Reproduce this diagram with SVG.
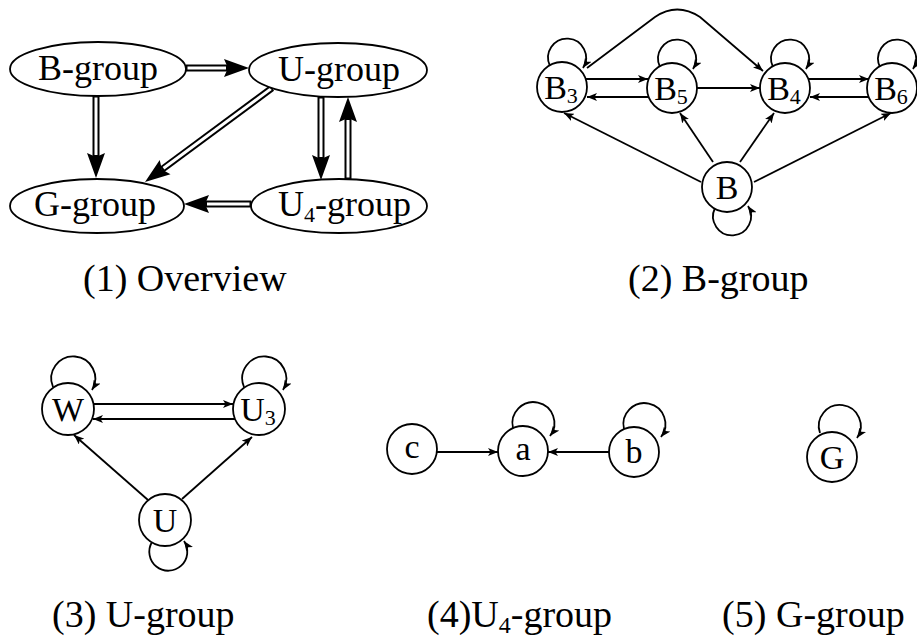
<svg xmlns="http://www.w3.org/2000/svg" width="917" height="637" viewBox="0 0 917 637">
<style>
.t{font-family:"Liberation Serif","Times New Roman",serif;fill:#000}
.big{font-size:36px}
.lab{font-size:34px}
.cap{font-size:38px}
.ell,.cir{fill:#fff;stroke:#000;stroke-width:1.8}
.dk{fill:none;stroke:#000;stroke-width:7}
.dw{fill:none;stroke:#fff;stroke-width:3}
.hd{fill:#000}
.e{fill:none;stroke:#000;stroke-width:1.8;marker-end:url(#ah)}
</style>
<defs>
<marker id="ah" viewBox="0 0 10 8" refX="10" refY="4" markerWidth="10" markerHeight="8" orient="auto" markerUnits="userSpaceOnUse">
<path d="M0,0 L10,4 L0,8 L2.5,4 Z" fill="#000"/>
</marker>
</defs>
<rect width="917" height="637" fill="#fff"/>

<g id="connectors">
<g id="ov-BU">
<path class="dk" d="M186,68 L228,68"/><path class="dw" d="M187.5,68 L226,68"/>
<polygon class="hd" points="249,68 224,77 228,68 224,59"/>
</g>
<g id="ov-BG">
<path class="dk" d="M96,96 L96,157"/><path class="dw" d="M96,97.5 L96,155"/>
<polygon class="hd" points="96,178 105,153 96,157 87,153"/>
</g>
<g id="ov-UG">
<path class="dk" d="M272,88 L161.9,169.5"/><path class="dw" d="M270.8,88.9 L163.5,168.3"/>
<polygon class="hd" points="145,182 170.5,174.3 161.9,169.5 159.7,159.9"/>
</g>
<g id="ov-UU4">
<path class="dk" d="M321,97 L321,159"/><path class="dw" d="M321,98.5 L321,157"/>
<polygon class="hd" points="321,180 330,155 321,159 312,155"/>
</g>
<g id="ov-U4U">
<path class="dk" d="M348,179 L348,118"/><path class="dw" d="M348,177.5 L348,120"/>
<polygon class="hd" points="348,97 357,122 348,118 339,122"/>
</g>
<g id="ov-U4G">
<path class="dk" d="M251,204 L205,204"/><path class="dw" d="M249.5,204 L207,204"/>
<polygon class="hd" points="184,204 209,213 205,204 209,195"/>
</g>

<path class="e" d="M586,79 L648,79"/>
<path class="e" d="M648,97 L587,97"/>
<path class="e" d="M697,88 L760,88"/>
<path class="e" d="M809,79 L869,79"/>
<path class="e" d="M869,97 L810,97"/>
<path class="e" d="M587,68 L655,17 Q677,2 700,17 L763,71"/>
<path class="e" d="M701,182 L564,113"/>
<path class="e" d="M713,162 L680,113"/>
<path class="e" d="M740,162 L774,113"/>
<path class="e" d="M754,182 L891,113"/>
<path class="e" d="M550,66 A19,19 0 1 1 583,68"/>
<path class="e" d="M660,67 A19,19 0 1 1 693,69"/>
<path class="e" d="M773,67 A19,19 0 1 1 806,69"/>
<path class="e" d="M880,67 A19,19 0 1 1 913,69"/>
<path class="e" d="M715,208 A19,19 0 1 0 748,206"/>

<path class="e" d="M94,404 L233,404"/>
<path class="e" d="M235,419 L93,419"/>
<path class="e" d="M148,500 L74,435"/>
<path class="e" d="M182,499 L252,437"/>
<path class="e" d="M53,387 A22,22 0 1 1 92,390"/>
<path class="e" d="M244,387 A22,22 0 1 1 283,390"/>
<path class="e" d="M152,542 A19,19 0 1 0 184,541"/>

<path class="e" d="M437,452 L498,452"/>
<path class="e" d="M609,452 L548,452"/>
<path class="e" d="M513,428 A21,21 0 1 1 550,436"/>
<path class="e" d="M624,429 A21,21 0 1 1 661,437"/>

<path class="e" d="M820,433 A21,21 0 1 1 857,438"/>
</g>

<g id="ov-Bgroup"><ellipse class="ell" cx="98" cy="69" rx="88" ry="27"/><text class="t big" x="98" y="80" text-anchor="middle">B-group</text></g>
<g id="ov-Ugroup"><ellipse class="ell" cx="338" cy="70" rx="89" ry="27"/><text class="t big" x="339" y="81" text-anchor="middle">U-group</text></g>
<g id="ov-Ggroup"><ellipse class="ell" cx="97" cy="206" rx="87" ry="27"/><text class="t big" x="95" y="216" text-anchor="middle">G-group</text></g>
<g id="ov-U4group"><ellipse class="ell" cx="339" cy="206" rx="88" ry="27"/><text class="t big" x="278" y="216">U<tspan font-size="22" dy="6">4</tspan><tspan dy="-6">-group</tspan></text></g>

<g id="B3"><circle class="cir" cx="562" cy="87" r="25"/><text class="t lab" x="561" y="99" text-anchor="middle">B<tspan font-size="22" dy="4">3</tspan></text></g>
<g id="B5"><circle class="cir" cx="672" cy="88" r="25"/><text class="t lab" x="671" y="100" text-anchor="middle">B<tspan font-size="22" dy="4">5</tspan></text></g>
<g id="B4"><circle class="cir" cx="785" cy="88" r="25"/><text class="t lab" x="784" y="100" text-anchor="middle">B<tspan font-size="22" dy="4">4</tspan></text></g>
<g id="B6"><circle class="cir" cx="892" cy="88" r="25"/><text class="t lab" x="891" y="100" text-anchor="middle">B<tspan font-size="22" dy="4">6</tspan></text></g>
<g id="B"><circle class="cir" cx="727" cy="187" r="25"/><text class="t lab" x="727" y="199" text-anchor="middle">B</text></g>

<g id="W"><circle class="cir" cx="68" cy="409" r="26"/><text class="t lab" x="68" y="421" text-anchor="middle">W</text></g>
<g id="U3"><circle class="cir" cx="259" cy="409" r="26"/><text class="t lab" x="258" y="421" text-anchor="middle">U<tspan font-size="22" dy="4">3</tspan></text></g>
<g id="U"><circle class="cir" cx="165" cy="520" r="26"/><text class="t lab" x="165" y="532" text-anchor="middle">U</text></g>

<g id="c"><circle class="cir" cx="412" cy="449" r="25"/><text class="t lab" x="412" y="458" text-anchor="middle">c</text></g>
<g id="a"><circle class="cir" cx="523" cy="451" r="25"/><text class="t lab" x="523" y="460" text-anchor="middle">a</text></g>
<g id="b"><circle class="cir" cx="634" cy="452" r="25"/><text class="t lab" x="634" y="463" text-anchor="middle">b</text></g>

<g id="G"><circle class="cir" cx="832" cy="457" r="25"/><text class="t lab" x="832" y="469" text-anchor="middle">G</text></g>

<text class="t cap" x="83" y="291">(1) Overview</text>
<text class="t cap" x="628" y="291">(2) B-group</text>
<text class="t cap" x="52" y="627">(3) U-group</text>
<text class="t cap" x="427" y="627">(4)U<tspan font-size="24" dy="6">4</tspan><tspan dy="-6">-group</tspan></text>
<text class="t cap" x="722" y="627">(5)<tspan x="776">G-group</tspan></text>
</svg>
